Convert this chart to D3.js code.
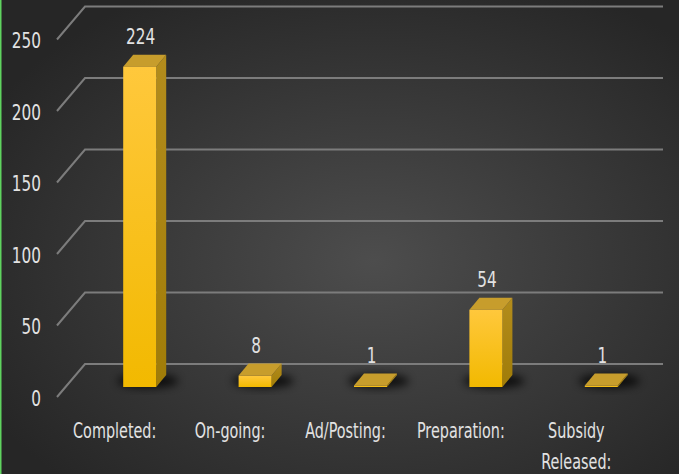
<!DOCTYPE html>
<html>
<head>
<meta charset="utf-8">
<script src="https://cdn.jsdelivr.net/npm/d3@7"></script>
<style>
  body { margin: 0; background: #2b2b2b; }
  svg { display: block; }
  text { font-family: "Liberation Sans Narrow", "DejaVu Sans Condensed", sans-serif; fill: #e2e2e2; }
</style>
</head>
<body>
<script>
// Chart data
const categories = ["Completed:", "On-going:", "Ad/Posting:", "Preparation:", "Subsidy Released:"];
const values = [224, 8, 1, 54, 1];
const ticks = [0, 50, 100, 150, 200, 250];

const width = 679, height = 474;

// 3D look: wall offset and bar depth
const floorDx = -28, floorDy = 33;   // back wall -> front edge of floor
const frontDy = 23;                  // bar front plane below back wall
const depthDx = 10, depthDy = -12;   // bar front -> bar back

const svg = d3.select("body").append("svg")
    .attr("width", width)
    .attr("height", height);

const defs = svg.append("defs");

// Background gradient
const bg = defs.append("radialGradient").attr("id", "bg")
    .attr("cx", "55%").attr("cy", "55%").attr("r", "65%");
bg.append("stop").attr("offset", "0%").attr("stop-color", "#4d4d4d");
bg.append("stop").attr("offset", "100%").attr("stop-color", "#262626");

// Bar face gradients
const front = defs.append("linearGradient").attr("id", "front")
    .attr("x1", 0).attr("y1", 0).attr("x2", 0).attr("y2", 1);
front.append("stop").attr("offset", "0%").attr("stop-color", "#ffc83c");
front.append("stop").attr("offset", "100%").attr("stop-color", "#f2b900");

const side = defs.append("linearGradient").attr("id", "side")
    .attr("x1", 0).attr("y1", 0).attr("x2", 0).attr("y2", 1);
side.append("stop").attr("offset", "0%").attr("stop-color", "#b38c1c");
side.append("stop").attr("offset", "100%").attr("stop-color", "#a07c08");

defs.append("filter").attr("id", "blur")
    .attr("x", "-50%").attr("y", "-50%").attr("width", "200%").attr("height", "200%")
  .append("feGaussianBlur").attr("stdDeviation", 4);

svg.append("rect")
    .attr("width", width).attr("height", height)
    .attr("fill", "url(#bg)");

// thin green border on the left edge
svg.append("rect")
    .attr("x", 0).attr("y", 0).attr("width", 1.5).attr("height", height)
    .attr("fill", "#5fd35f");

// Scales
const x = d3.scaleBand()
    .domain(categories)
    .range([82, 659])
    .paddingInner(0.714)
    .paddingOuter(0.357);

const y = d3.scaleLinear()
    .domain([0, 250])
    .range([364, 6.5]);

// Gridlines: back wall + floor diagonal
const grid = svg.append("g")
    .attr("stroke", "#7c7c7c")
    .attr("stroke-width", 2)
    .attr("fill", "none");

grid.selectAll("path")
    .data(ticks)
    .enter()
    .append("path")
    .attr("d", d => `M${85 + floorDx},${y(d) + floorDy}L${85},${y(d)}L${663},${y(d)}`);

// Tick labels
svg.append("g").selectAll("text")
    .data(ticks)
    .enter()
    .append("text")
    .attr("text-anchor", "end")
    .attr("font-size", 17)
    .attr("transform", d => `translate(41,${y(d) + 41.5}) scale(1,1.25)`)
    .text(d => d);

// Bars
const bars = svg.append("g").selectAll("g")
    .data(values)
    .enter()
    .append("g");

const bw = x.bandwidth();
const y0 = y(0) + frontDy;

// shadow on floor
bars.append("ellipse")
    .attr("cx", (d, i) => x(categories[i]) + bw / 2 + 8)
    .attr("cy", y0 - 6)
    .attr("rx", bw / 2 + 14)
    .attr("ry", 7)
    .attr("fill", "#000")
    .attr("opacity", 0.75)
    .attr("filter", "url(#blur)");

// side face
bars.append("path")
    .attr("fill", "url(#side)")
    .attr("d", (d, i) => {
        const x1 = x(categories[i]) + bw, yt = y(d) + frontDy;
        return `M${x1},${yt}L${x1 + depthDx},${yt + depthDy}L${x1 + depthDx},${y0 + depthDy}L${x1},${y0}Z`;
    });

// top face
bars.append("path")
    .attr("fill", "#c79d2c")
    .attr("d", (d, i) => {
        const x0 = x(categories[i]), yt = y(d) + frontDy;
        return `M${x0},${yt}L${x0 + depthDx},${yt + depthDy}L${x0 + bw + depthDx},${yt + depthDy}L${x0 + bw},${yt}Z`;
    });

// front face
bars.append("rect")
    .attr("x", (d, i) => x(categories[i]))
    .attr("y", d => y(d) + frontDy)
    .attr("width", bw)
    .attr("height", d => y0 - (y(d) + frontDy))
    .attr("fill", "url(#front)");

// Value labels
bars.append("text")
    .attr("text-anchor", "middle")
    .attr("font-size", 17)
    .attr("transform", (d, i) => `translate(${x(categories[i]) + bw / 2 + 1},${y(d)}) scale(1,1.25)`)
    .text(d => d);

// Category labels (wrapped on spaces)
const labels = svg.append("g").selectAll("text")
    .data(categories)
    .enter()
    .append("text")
    .attr("text-anchor", "middle")
    .attr("font-size", 16)
    .attr("transform", d => `translate(${x(d) + bw / 2 - 25},${438}) scale(1,1.32)`);

labels.selectAll("tspan")
    .data(d => d.split(" "))
    .enter()
    .append("tspan")
    .attr("x", 0)
    .attr("y", (d, i) => i * 23.5)
    .text(d => d);
</script>
</body>
</html>
